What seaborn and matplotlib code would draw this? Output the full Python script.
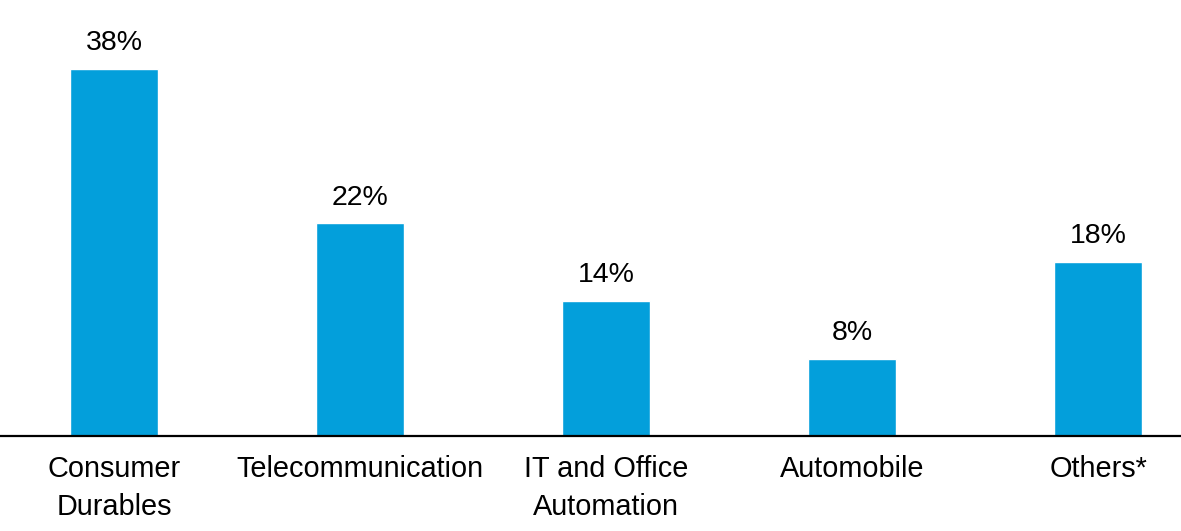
import matplotlib
matplotlib.use("Agg")
import matplotlib.pyplot as plt
import seaborn as sns

# sector share values
sectors = ["Consumer\nDurables", "Telecommunication", "IT and Office\nAutomation", "Automobile", "Others*"]
shares = [38, 22, 14, 8, 18]
labels = ["38%", "22%", "14%", "8%", "18%"]

sns.set_style("white")
plt.rcParams["font.family"] = ["Liberation Sans", "DejaVu Sans"]
plt.rcParams["text.color"] = "black"
plt.rcParams["xtick.color"] = "black"

fig = plt.figure(figsize=(11.81, 5.31), dpi=100)
ax = fig.add_axes([0, 0.179, 1, 0.821])

sns.barplot(x=sectors, y=shares, color="#039FDB", width=0.36, saturation=1, ax=ax)

for i, (v, lab) in enumerate(zip(shares, labels)):
    ax.annotate(lab, (i, v), xytext=(0, 9), textcoords="offset points",
                ha="center", va="bottom", fontsize=20.5, color="black")

ax.set_xlim(-0.463, 4.337)
ax.set_ylim(0, 45.1)
ax.set_yticks([])
for s in ["top", "left", "right"]:
    ax.spines[s].set_visible(False)
ax.spines["bottom"].set_color("black")
ax.spines["bottom"].set_linewidth(1.6)
ax.tick_params(axis="x", length=0, pad=13.5, labelsize=20.8, labelcolor="black")
for t in ax.get_xticklabels():
    t.set_linespacing(1.45)
ax.set_xlabel("")
ax.set_ylabel("")

fig.savefig("out.png", dpi=100)
